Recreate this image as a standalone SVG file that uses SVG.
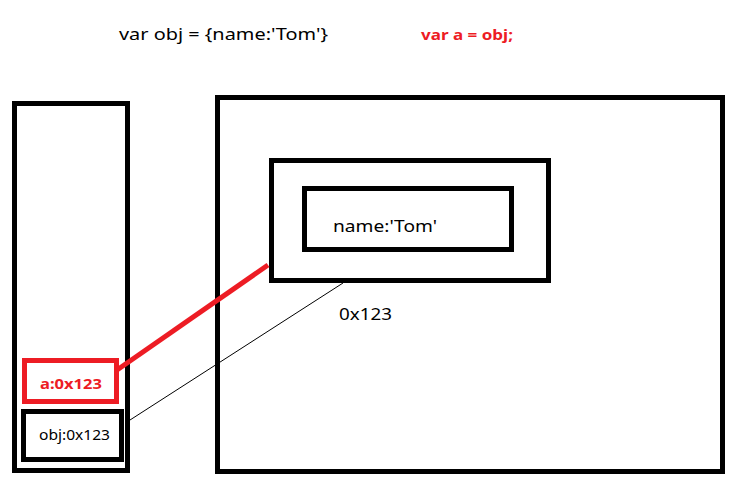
<svg xmlns="http://www.w3.org/2000/svg" width="737" height="481" viewBox="0 0 737 481">
<style>
.box{fill:none;stroke:#000;stroke-width:5}
.rbox{fill:none;stroke:#ED1C24;stroke-width:5}
.t{font-family:"Noto Sans","Open Sans",sans-serif;fill:#000}
.r{font-family:"Noto Sans","Open Sans",sans-serif;fill:#ED1C24;font-weight:bold}
</style>
<rect width="737" height="481" fill="#fff"/>
<g id="code1"><text class="t" x="119" y="40" font-size="16" textLength="209" lengthAdjust="spacingAndGlyphs">var obj = {name:'Tom'}</text></g>
<g id="code2"><text class="r" x="421" y="40" font-size="15" textLength="92" lengthAdjust="spacingAndGlyphs">var a = obj;</text></g>
<g id="stack"><rect class="box" x="14.5" y="103.5" width="113" height="367"/></g>
<g id="heap"><rect class="box" x="217.5" y="97.5" width="505" height="374"/>
<text class="t" x="339" y="320" font-size="16" textLength="53" lengthAdjust="spacingAndGlyphs">0x123</text></g>
<g id="object"><rect class="box" x="271.5" y="160.5" width="277" height="120"/></g>
<g id="prop"><rect class="box" x="304.5" y="188.5" width="207" height="61"/>
<text class="t" x="333" y="232" font-size="16" textLength="104" lengthAdjust="spacingAndGlyphs">name:'Tom'</text></g>
<g id="varA"><rect class="rbox" x="24.5" y="360.5" width="92" height="41"/>
<text class="r" x="40" y="389" font-size="15" textLength="62" lengthAdjust="spacingAndGlyphs">a:0x123</text></g>
<g id="varObj"><rect class="box" x="23.5" y="411.5" width="98" height="48"/>
<text class="t" x="39" y="440" font-size="14" textLength="71" lengthAdjust="spacingAndGlyphs">obj:0x123</text></g>
<g id="connectors">
<line x1="130" y1="420" x2="343" y2="283" stroke="#000" stroke-width="1"/>
<line x1="117" y1="370" x2="268" y2="265" stroke="#ED1C24" stroke-width="5"/>
</g>
</svg>
